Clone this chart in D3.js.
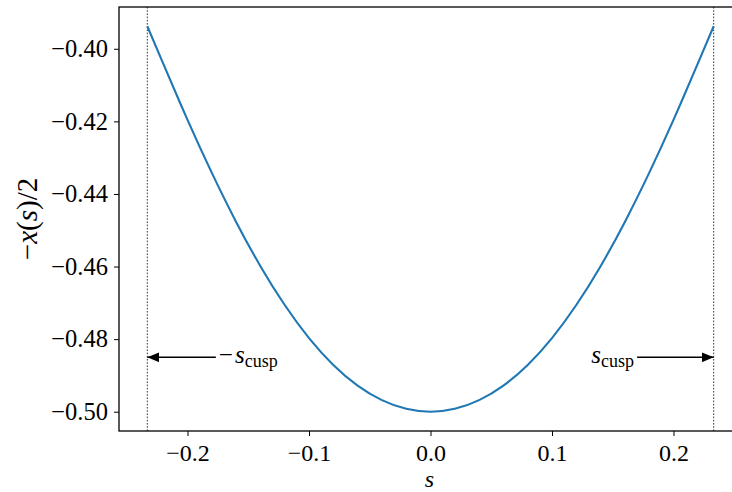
<!DOCTYPE html>
<html>
<head>
<meta charset="utf-8">
<script src="https://cdn.jsdelivr.net/npm/d3@7"></script>
<style>
  html, body { margin: 0; padding: 0; background: #fff; }
  svg { display: block; }
  text { font-family: "Liberation Serif", "Times New Roman", serif; fill: #000; }
</style>
</head>
<body>
<svg id="chart" width="732" height="492"></svg>
<script>
// Curve samples: s and -x(s)/2
const sVals = [-0.2331, -0.22, -0.20, -0.18, -0.16, -0.14, -0.12, -0.10, -0.08, -0.06, -0.04, -0.02, 0.0,
               0.02, 0.04, 0.06, 0.08, 0.10, 0.12, 0.14, 0.16, 0.18, 0.20, 0.22, 0.2331];
const yVals = [-0.3938, -0.4041, -0.4196, -0.4342, -0.4477, -0.4599, -0.4706, -0.4797, -0.4871, -0.4928, -0.4968, -0.4992, -0.5000,
               -0.4992, -0.4968, -0.4928, -0.4871, -0.4797, -0.4706, -0.4599, -0.4477, -0.4342, -0.4196, -0.4041, -0.3938];

// Cusp position and annotation placement
const sCusp = 0.2331;
const arrowY = -0.485;
const labelS = [-0.15, 0.15];

// Axis ticks
const xTicks = [-0.2, -0.1, 0.0, 0.1, 0.2];
const xTickLabels = ["\u22120.2", "\u22120.1", "0.0", "0.1", "0.2"];
const yTicks = [-0.50, -0.48, -0.46, -0.44, -0.42, -0.40];
const yTickLabels = ["\u22120.50", "\u22120.48", "\u22120.46", "\u22120.44", "\u22120.42", "\u22120.40"];

const FONT = "'Liberation Serif', 'Times New Roman', serif";
const svg = d3.select("#chart");
const plotLeft = 119, plotTop = 7, plotBottom = 431;

const xPad = 0.1 * sCusp;
const x = d3.scaleLinear().domain([-sCusp - xPad, sCusp + xPad]).range([plotLeft, 742]);
const yMin = d3.min(yVals), yMax = d3.max(yVals);
const yPad = 0.05 * (yMax - yMin);
const y = d3.scaleLinear().domain([yMin - yPad, yMax + yPad]).range([plotBottom, plotTop]);

// Dotted cusp markers
[-sCusp, sCusp].forEach(v => {
  svg.append("line")
    .attr("x1", x(v)).attr("x2", x(v))
    .attr("y1", plotTop).attr("y2", plotBottom)
    .attr("stroke", "#000").attr("stroke-width", 0.8)
    .attr("stroke-dasharray", "1.6,1.6");
});

// Curve
const line = d3.line().x((d, i) => x(sVals[i])).y(d => y(d)).curve(d3.curveNatural);
svg.append("path")
  .datum(yVals)
  .attr("d", line)
  .attr("fill", "none")
  .attr("stroke", "#1f77b4")
  .attr("stroke-width", 2.1);

// Axes
const xAxis = d3.axisBottom(x).tickValues(xTicks).tickSize(5).tickPadding(8)
  .tickFormat((d, i) => xTickLabels[i]);
const gx = svg.append("g").attr("transform", `translate(0,${plotBottom})`).call(xAxis);
const yAxis = d3.axisLeft(y).tickValues(yTicks).tickSize(5).tickPadding(6)
  .tickFormat((d, i) => yTickLabels[i]);
const gy = svg.append("g").attr("transform", `translate(${plotLeft},0)`).call(yAxis);
[gx, gy].forEach(g => {
  g.attr("font-family", FONT);
  g.select(".domain").remove();
  g.selectAll(".tick line").attr("stroke", "#000").attr("stroke-width", 1);
  g.selectAll(".tick text").attr("font-size", 24.5)
    .attr("font-family", FONT).attr("fill", "#000");
});
gx.selectAll(".tick text").attr("dy", "0.71em").attr("font-size", 24);

// Frame
svg.append("rect")
  .attr("x", plotLeft).attr("y", plotTop)
  .attr("width", x.range()[1] - plotLeft).attr("height", plotBottom - plotTop)
  .attr("fill", "none").attr("stroke", "#000").attr("stroke-width", 1.3);

// Axis labels
svg.append("text")
  .attr("x", (plotLeft + x.range()[1]) / 2 - 1).attr("y", 487)
  .attr("text-anchor", "middle").attr("font-size", 24).attr("font-style", "italic")
  .attr("font-family", FONT)
  .text("s");

const yl = svg.append("text")
  .attr("transform", `translate(37,${(plotTop + plotBottom) / 2}) rotate(-90)`)
  .attr("text-anchor", "middle").attr("font-size", 29).attr("font-family", FONT);
yl.append("tspan").text("\u2212");
yl.append("tspan").attr("font-style", "italic").text("x");
yl.append("tspan").text("(");
yl.append("tspan").attr("font-style", "italic").text("s");
yl.append("tspan").text(")/2");

// Arrow marker
svg.append("defs").append("marker")
  .attr("id", "head")
  .attr("viewBox", "0 0 12 10")
  .attr("refX", 12).attr("refY", 5)
  .attr("markerWidth", 12).attr("markerHeight", 10)
  .attr("markerUnits", "userSpaceOnUse")
  .attr("orient", "auto")
  .append("path").attr("d", "M0,0 L12,5 L0,10 Z").attr("fill", "#000");

// Annotations
function cuspLabel(sText, prefix, target) {
  const t = svg.append("text")
    .attr("x", x(sText)).attr("y", y(arrowY) + 6)
    .attr("text-anchor", "middle").attr("font-size", 25).attr("font-family", FONT);
  if (prefix) t.append("tspan").text(prefix);
  t.append("tspan").attr("font-style", "italic").attr("dx", prefix ? 2 : 0).text("s");
  t.append("tspan").attr("font-size", 18).attr("dy", 4).text("cusp");
  const bb = t.node().getBBox();
  const startX = target < sText ? bb.x - 3 : bb.x + bb.width + 3;
  svg.append("line")
    .attr("x1", startX).attr("y1", y(arrowY))
    .attr("x2", x(target)).attr("y2", y(arrowY))
    .attr("stroke", "#000").attr("stroke-width", 1.4)
    .attr("marker-end", "url(#head)");
}
cuspLabel(labelS[0], "\u2212", -sCusp);
cuspLabel(labelS[1], "", sCusp);
</script>
</body>
</html>
